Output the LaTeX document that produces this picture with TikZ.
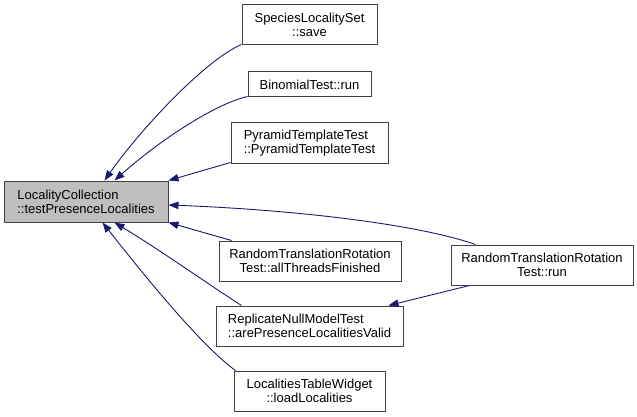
\documentclass[tikz,border=0pt]{standalone}
\usepackage{fontspec}
\setmainfont{Liberation Sans}
\usetikzlibrary{arrows.meta}
\definecolor{edgeblue}{RGB}{25,25,112}
\definecolor{boxline}{RGB}{64,64,64}
\definecolor{mainfill}{RGB}{191,191,191}
\tikzset{
  fn/.style={draw=boxline, line width=1pt, fill=white, inner sep=0pt,
    font=\fontsize{13}{14}\selectfont, text=black},
  mainfn/.style={fn, fill=mainfill},
  calledge/.style={draw=edgeblue, line width=0.9pt,
    {Triangle[length=10pt,width=7.5pt,fill=edgeblue]}-}
}
\begin{document}
\begin{tikzpicture}[x=1pt,y=-1pt]
\useasboundingbox (0,0) rectangle (637,417);
\node[mainfn, minimum width=164pt, minimum height=41pt, align=left] (main) at (86,201.5)
  {LocalityCollection\\::testPresenceLocalities};
\node[fn, minimum width=135pt, minimum height=40pt, align=center] (save) at (309.5,25)
  {SpeciesLocalitySet\\::save};
\node[fn, minimum width=123pt, minimum height=25pt, align=center] (binom) at (309.5,84.5)
  {BinomialTest::run};
\node[fn, minimum width=157pt, minimum height=40pt, align=left] (pyr) at (309.5,143)
  {PyramidTemplateTest\\::PyramidTemplateTest};
\node[fn, minimum width=182pt, minimum height=40pt, align=center] (threads) at (310,261)
  {RandomTranslationRotation\\Test::allThreadsFinished};
\node[fn, minimum width=187pt, minimum height=40pt, align=left] (repl) at (309.5,326)
  {ReplicateNullModelTest\\::arePresenceLocalitiesValid};
\node[fn, minimum width=151pt, minimum height=40pt, align=center] (loc) at (309.5,391)
  {LocalitiesTableWidget\\::loadLocalities};
\node[fn, minimum width=182pt, minimum height=40pt, align=center] (rtrun) at (542,265)
  {RandomTranslationRotation\\Test::run};

\draw[calledge] ([xshift=101pt]main.north west) .. controls (140,130) and (205,60) .. ([yshift=1pt]save.south west);
\draw[calledge] ([xshift=111pt]main.north west) .. controls (160,140) and (215,104) .. ([yshift=1pt]binom.south west);
\draw[calledge] (main.north east) -- ([yshift=1pt]pyr.south west);
\draw[calledge] ([yshift=-3.5pt]main.east) .. controls (300,210) and (420,225) .. ([xshift=25pt]rtrun.north west);
\draw[calledge] (main.south east) -- ([xshift=13pt]threads.north west);
\draw[calledge] ([xshift=111pt]main.south west) .. controls (160,250) and (205,282) .. ([xshift=26pt]repl.north west);
\draw[calledge] ([xshift=99pt]main.south west) .. controls (140,270) and (200,345) .. ([xshift=2pt]loc.north west);
\draw[calledge] ([xshift=-15pt]repl.north east) -- ([xshift=19pt]rtrun.south west);
\end{tikzpicture}
\end{document}
